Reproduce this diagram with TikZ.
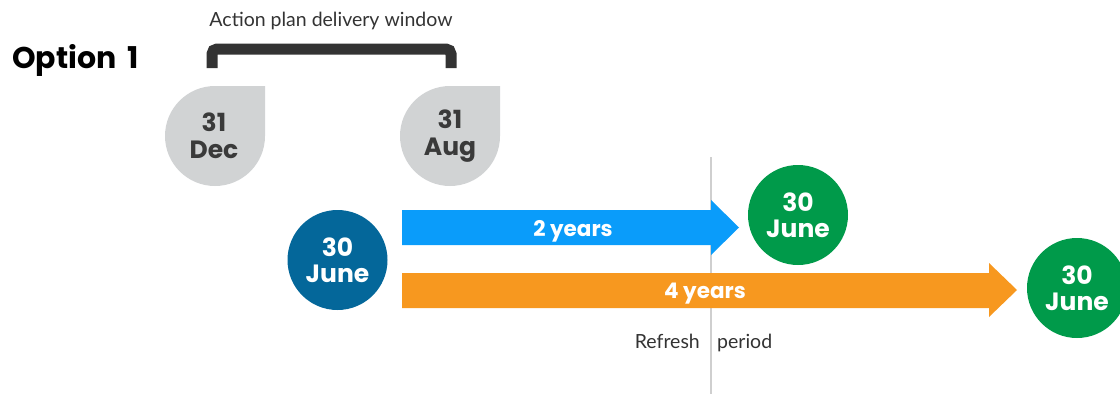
\documentclass[tikz,border=0pt]{standalone}
\usepackage{fontspec}
\setmainfont{Lato}
\newfontfamily\headfont{Poppins}
\usetikzlibrary{positioning}

\definecolor{dropgrey}{HTML}{D1D3D4}
\definecolor{droptext}{HTML}{3A3A3A}
\definecolor{startblue}{HTML}{04679A}
\definecolor{endgreen}{HTML}{009A4A}
\definecolor{twoblue}{HTML}{0A9CFA}
\definecolor{fourorange}{HTML}{F7981F}
\definecolor{bracketgrey}{HTML}{333333}
\definecolor{linegrey}{HTML}{CFCFCF}

\tikzset{
    datecircle/.style={circle, minimum size=100pt, inner sep=0pt, text=white, align=center,
        font=\headfont\bfseries\fontsize{25}{26}\selectfont},
    droplabel/.style={inner sep=0pt, text=droptext, align=center,
        font=\headfont\bfseries\fontsize{25}{27}\selectfont},
    yearlabel/.style={inner sep=0pt, anchor=base, text=white, font=\headfont\bfseries\fontsize{21.5}{23}\selectfont},
    smalltext/.style={inner sep=0pt, text=bracketgrey, font=\fontsize{19.5}{21}\selectfont}
}

\begin{document}
\begin{tikzpicture}[x=1pt, y=-1pt]
        \useasboundingbox (0, 0) rectangle (1120, 394);
        % refresh line
        \coordinate (reftop) at (711, 157);
        \coordinate (refbot) at (711, 394);
        \draw[linegrey, line width=1.2pt] (reftop) -- (refbot);
        \node[smalltext, anchor=base east] (refresh) at (700, 348) {Refresh};
        \node[smalltext, anchor=base west] (period) at (717, 348) {period};
        % heading and bracket
        \node[anchor=base west, inner sep=0pt, font=\headfont\bfseries\fontsize{30}{32}\selectfont] (option) at (12, 68) {Option\hspace{11pt}1};
        \node[smalltext, anchor=base] (window) at (331, 26) {Action plan delivery window};
        \draw[bracketgrey, line width=11pt, rounded corners=5pt] (212, 68) -- (212, 49) -- (451, 49) -- (451, 68);
        % grey drops
        \fill[dropgrey] (265, 86) -- (265, 136) arc[start angle=0, end angle=270, radius=50] -- cycle;
        \node[droplabel] (dec) at (214, 136) {31\\Dec};
        \fill[dropgrey] (500, 86) -- (500, 136) arc[start angle=0, end angle=270, radius=50] -- cycle;
        \node[droplabel] (aug) at (450, 136) {31\\Aug};
        % arrows
        \fill[twoblue] (402, 210) -- (711, 210) -- (711, 200) -- (739, 227.5) -- (711, 255) -- (711, 245) -- (402, 245) -- cycle;
        \node[yearlabel] (two) at (573, 236) {2 years};
        \fill[fourorange] (402, 273) -- (989, 273) -- (989, 263) -- (1017, 290) -- (989, 317) -- (989, 308) -- (402, 308) -- cycle;
        \node[yearlabel] (four) at (705, 298) {4 years};
        % circles
        \node[datecircle, fill=startblue] (start) at (337.5, 260) {30\\June};
        \node[datecircle, fill=endgreen] (endtwo) at (798, 215) {30\\June};
        \node[datecircle, fill=endgreen] (endfour) at (1077, 288) {30\\June};
\end{tikzpicture}
\end{document}
